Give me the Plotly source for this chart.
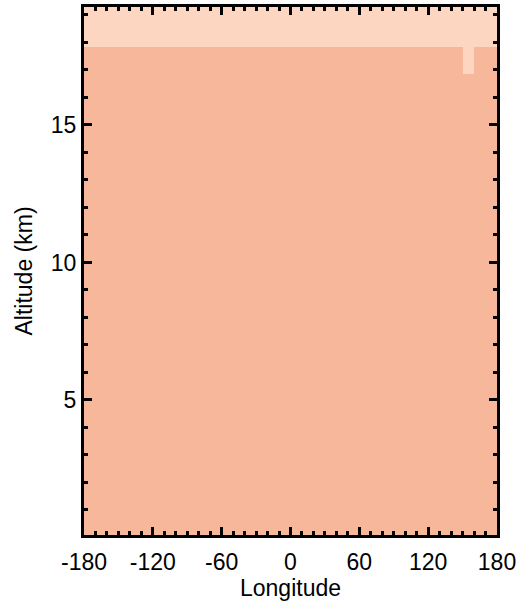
import plotly.graph_objects as go

# Data grid
longitudes = list(range(-175, 180, 10))          # cell centres, 10-deg cells
altitudes = [k + 0.35 for k in range(0, 20)]      # cell centres, 1-km cells
base_value = 0.0
high_value = 1.0
top_rows_from = 18.35      # rows at/above this altitude have high value
spot_lon = 155
spot_alt = 17.35

z = []
for a in altitudes:
    row = []
    for lon in longitudes:
        v = high_value if a >= top_rows_from else base_value
        if abs(a - spot_alt) < 1e-6 and lon == spot_lon:
            v = high_value
        row.append(v)
    z.append(row)

x_ticks = [-180, -120, -60, 0, 60, 120, 180]
y_ticks = [5, 10, 15]

main_color = "#F6B79B"
light_color = "#FCD6C0"

fig = go.Figure(go.Heatmap(
    x=longitudes, y=altitudes, z=z,
    colorscale=[[0, main_color], [1, light_color]],
    zmin=0, zmax=1, showscale=False, hoverinfo="skip",
))

font = dict(family="Liberation Sans, Arial, sans-serif", size=23, color="black")

fig.update_xaxes(
    range=[-180, 180], tickvals=x_ticks, ticktext=[str(v) for v in x_ticks],
    ticks="inside", ticklen=8, tickwidth=3, tickcolor="black",
    showline=True, linewidth=3, linecolor="black", mirror="allticks",
    minor=dict(dtick=10, tick0=0, ticks="inside", ticklen=4, tickwidth=3, tickcolor="black"),
    showgrid=False, zeroline=False, layer="above traces", automargin=False,
    ticklabelstandoff=4,
    title=dict(text="Longitude", font=font, standoff=0),
    tickfont=font,
)
fig.update_yaxes(
    range=[0.09, 19.29], tickvals=y_ticks,
    ticks="inside", ticklen=8, tickwidth=3, tickcolor="black",
    showline=True, linewidth=3, linecolor="black", mirror="allticks",
    minor=dict(dtick=1, tick0=0, ticks="inside", ticklen=4, tickwidth=3, tickcolor="black"),
    showgrid=False, zeroline=False, layer="above traces", automargin=False,
    title=dict(text="Altitude (km)", font=font, standoff=12),
    tickfont=font,
)

fig.update_layout(
    width=524, height=602,
    margin=dict(l=84, r=27, t=7, b=67, autoexpand=False),
    paper_bgcolor="white", plot_bgcolor="white",
)

fig.write_html("out.html", config={"displayModeBar": False},
               post_script="document.body.style.margin='0';")
